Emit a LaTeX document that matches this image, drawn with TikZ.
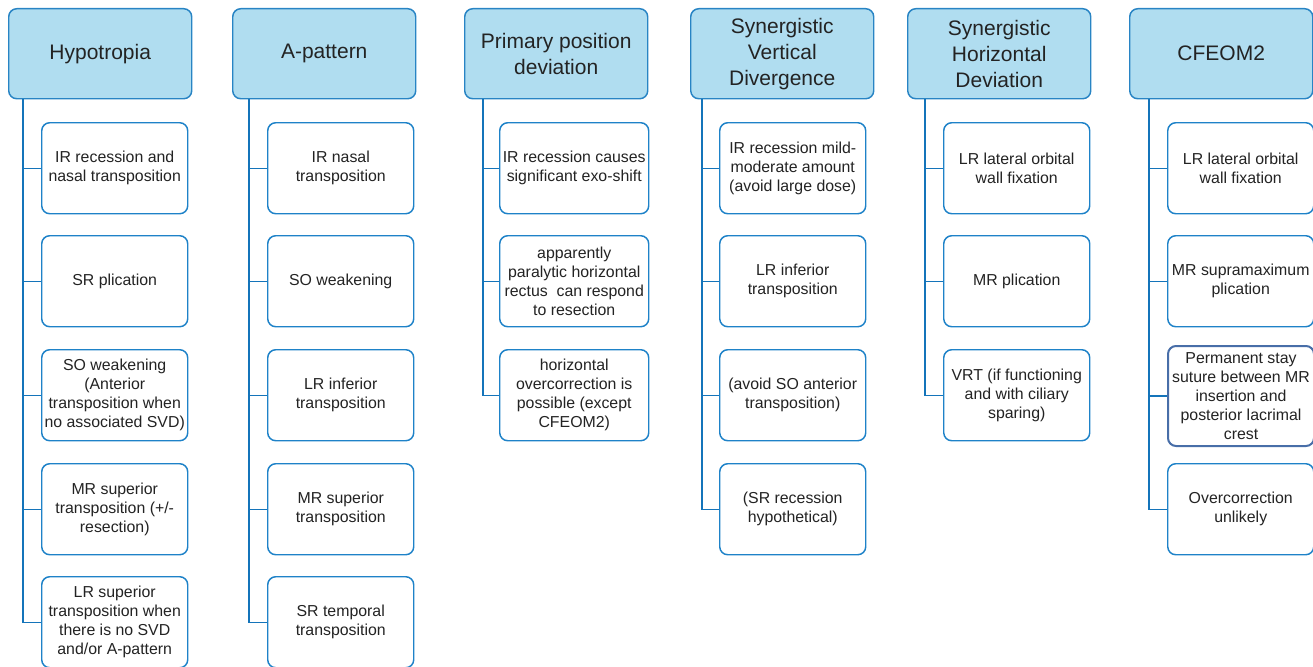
\documentclass[tikz,border=0pt]{standalone}
\usepackage{fontspec}
\setmainfont{Liberation Sans}

\definecolor{hdrfill}{RGB}{176,221,240}
\definecolor{hdrline}{RGB}{40,132,196}
\definecolor{boxline}{RGB}{30,130,200}
\definecolor{linkblue}{RGB}{20,116,186}
\definecolor{stayline}{RGB}{72,110,168}
\definecolor{txt}{RGB}{35,35,35}

\tikzset{
  header/.style={draw=hdrline, fill=hdrfill, line width=1.1pt, rounded corners=6pt,
    anchor=north west, minimum width=137.25pt, minimum height=67.5pt,
    align=center, inner sep=1pt, text=txt, font=\fontsize{15.75}{19.5}\selectfont},
  item/.style={draw=boxline, fill=white, line width=1.1pt, rounded corners=6pt,
    anchor=north west, minimum width=109.5pt, minimum height=68.25pt,
    align=center, inner sep=1pt, text=txt, font=\fontsize{11.9}{14.25}\selectfont},
  link/.style={draw=linkblue, line width=1.1pt},
}

\begin{document}
\begin{tikzpicture}[x=0.75pt, y=-0.75pt]

  \useasboundingbox (0,0) rectangle (1313,667);

  % Column headers
  \node[header] (hypo)  at (8,8)    {Hypotropia};
  \node[header] (apat)  at (232,8)  {A-pattern};
  \node[header] (ppd)   at (464,8)  {Primary position\\deviation};
  \node[header] (svd)   at (690,8)  {Synergistic\\Vertical\\Divergence};
  \node[header] (shd)   at (907,8)  {Synergistic\\Horizontal\\Deviation};
  \node[header] (cfeom) at (1129,8) {CFEOM2};

  % Hypotropia
  \node[item] (hypo1) at (41,122) {IR recession and\\nasal transposition};
  \node[item] (hypo2) at (41,235) {SR plication};
  \node[item] (hypo3) at (41,349) {SO weakening\\(Anterior\\transposition when\\no associated SVD)};
  \node[item] (hypo4) at (41,463) {MR superior\\transposition (+/-\\resection)};
  \node[item] (hypo5) at (41,576) {LR superior\\transposition when\\there is no SVD\\and/or A-pattern};

  % A-pattern
  \node[item] (apat1) at (267,122) {IR nasal\\transposition};
  \node[item] (apat2) at (267,235) {SO weakening};
  \node[item] (apat3) at (267,349) {LR inferior\\transposition};
  \node[item] (apat4) at (267,463) {MR superior\\transposition};
  \node[item] (apat5) at (267,576) {SR temporal\\transposition};

  % Primary position deviation
  \node[item, minimum width=111.75pt] (ppd1) at (499,122) {IR recession causes\\significant exo-shift};
  \node[item, minimum width=111.75pt] (ppd2) at (499,235) {apparently\\paralytic horizontal\\rectus\ \ can respond\\to resection};
  \node[item, minimum width=111.75pt] (ppd3) at (499,349) {horizontal\\overcorrection is\\possible (except\\CFEOM2)};

  % Synergistic vertical divergence
  \node[item] (svd1) at (719,122) {IR recession mild-\\moderate amount\\(avoid large dose)};
  \node[item] (svd2) at (719,235) {LR inferior\\transposition};
  \node[item] (svd3) at (719,349) {(avoid SO anterior\\transposition)};
  \node[item] (svd4) at (719,463) {(SR recession\\hypothetical)};

  % Synergistic horizontal deviation
  \node[item] (shd1) at (943,122) {LR lateral orbital\\wall fixation};
  \node[item] (shd2) at (943,235) {MR plication};
  \node[item] (shd3) at (943,349) {VRT (if functioning\\and with ciliary\\sparing)};

  % CFEOM2
  \node[item] (cfeom1) at (1167,122) {LR lateral orbital\\wall fixation};
  \node[item] (cfeom2) at (1167,235) {MR supramaximum\\plication};
  \node[item, draw=stayline, line width=1.5pt, minimum height=75pt] (cfeom3) at (1167,345)
    {Permanent stay\\suture between MR\\insertion and\\posterior lacrimal\\crest};
  \node[item] (cfeom4) at (1167,463) {Overcorrection\\unlikely};

  % Connectors: trunk down from each header, branch into each box
  \foreach \col/\dx/\n in {hypo/15/5, apat/17/5, ppd/19/3, svd/12/4, shd/18/3, cfeom/20/4} {
    \foreach \k in {1,...,\n}
      \draw[link] ([xshift=\dx*0.75pt]\col.south west) |- (\col\k.west);
  }

\end{tikzpicture}
\end{document}
